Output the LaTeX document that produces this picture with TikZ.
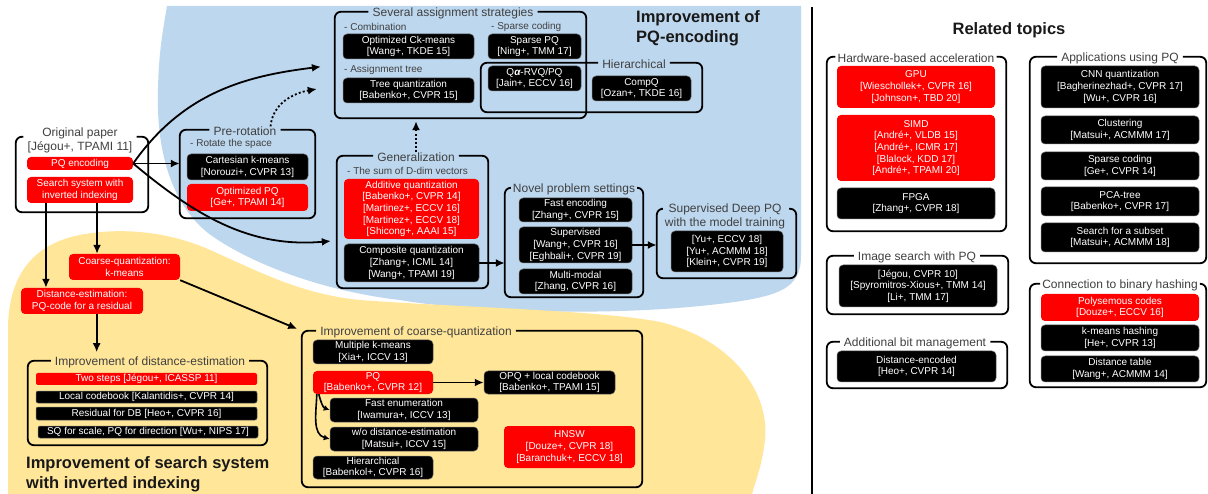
\documentclass[tikz,border=0pt]{standalone}
\usepackage{fontspec}
\setmainfont{Liberation Sans}
\usetikzlibrary{arrows.meta,fit,calc}
\definecolor{pqblue}{HTML}{BDD7EE}
\definecolor{pqyellow}{HTML}{FFE699}
\definecolor{pqred}{HTML}{FF0000}
\definecolor{ttlgray}{HTML}{404040}

\tikzset{
  box/.style={rounded corners=4pt, inner sep=0pt, text=white, align=center,
    font=\fontsize{10}{11.6}\selectfont},
  blk/.style={box, fill=black, draw=black!60, line width=0.5pt},
  rdb/.style={box, fill=pqred},
  thin/.style={rounded corners=2pt},
  grp/.style={inner sep=0pt, draw=none},
  frm/.style={draw=black, line width=1.8pt, rounded corners=6pt},
  ttl/.style={text=ttlgray, inner sep=0pt, inner xsep=4pt, align=center,
    font=\fontsize{12}{14}\selectfont},
  sub/.style={text=ttlgray, anchor=west, inner sep=0pt,
    font=\fontsize{10}{12}\selectfont},
  head/.style={text=black!90, inner sep=0pt, align=left,
    font=\bfseries\fontsize{16.5}{19.5}\selectfont},
  arr/.style={line width=1.8pt, -{Latex[length=9pt,width=8pt]}},
  smallarr/.style={line width=1.6pt, -{Latex[length=6pt,width=6pt]}},
  dotarr/.style={arr, dash pattern=on 2pt off 2.2pt},
}
% border of a group, broken where its title sits on the top edge
\newcommand\pqframe[2]{\draw[frm] (#2.east |- #1.north) -| (#1.south east) -| (#1.north west) -- (#2.west |- #1.north);}
% a text box given by style, name and its corners x1,y1,x2,y2
\newcommand\pqbox[6]{\node[#1, minimum width={(#5-#3)*1pt}, minimum height={(#6-#4)*1pt}] (#2) at ({(#3+#5)/2},{(#4+#6)/2})}

\begin{document}
\begin{tikzpicture}[x=1pt,y=-1pt]
\useasboundingbox (0,0) rectangle (1208,494);
\fill[white] (0,0) rectangle (1208,494);

% coloured areas
\fill[pqblue] (167,6) -- (801,6) -- (801,255)
  .. controls (801,290) and (780,298) .. (700,306)
  .. controls (600,316) and (470,312) .. (400,300)
  .. controls (330,292) and (260,268) .. (215,238)
  .. controls (180,215) and (160,170) .. (158,110)
  .. controls (157,60) and (163,30) .. (167,6) -- cycle;
\fill[pqyellow] (8,494) -- (8,330)
  .. controls (8,285) and (25,248) .. (75,236)
  .. controls (120,226) and (170,232) .. (210,250)
  .. controls (260,272) and (300,294) .. (360,300)
  .. controls (450,307) and (600,310) .. (660,322)
  .. controls (735,340) and (770,395) .. (765,440)
  .. controls (762,465) and (756,480) .. (752,494) -- cycle;

% separator
\coordinate (sepT) at (812,7);
\coordinate (sepB) at (812,494);
\draw[line width=1.8pt] (sepT) -- (sepB);

% headings
\node[head, anchor=west] (hPQ) at (636,28.5) {Improvement of\\PQ-encoding};
\node[head, anchor=west] (hIVF) at (26,474.5) {Improvement of search system\\with inverted indexing};
\node[head, anchor=base] (hRel) at (1009,35) {Related topics};

% ---- original paper
\node[grp, fit={(16,137)(148,212)}] (origF) {};
\node[ttl] (origT) at (80,140) {Original paper\\{}[Jégou+, TPAMI 11]};
\pqframe{origF}{origT}
\pqbox{rdb}{pqe}{27}{157}{133}{170} {PQ encoding};
\pqbox{rdb}{srch}{27}{177}{133}{203} {Search system with\\inverted indexing};

% ---- pre-rotation
\node[grp, fit={(180,130)(315,218)}] (prF) {};
\node[ttl] (prT) at (245,131) {Pre-rotation};
\pqframe{prF}{prT}
\node[sub] (sRot) at (190,144) {- Rotate the space};
\pqbox{blk}{cart}{187}{154}{308}{180} {Cartesian k-means\\{}[Norouzi+, CVPR 13]};
\pqbox{rdb}{opq}{187}{184}{308}{211} {Optimized PQ\\{}[Ge+, TPAMI 14]};

% ---- several assignment strategies
\node[grp, fit={(335,12)(586,118)}] (sasF) {};
\node[ttl] (sasT) at (453,13) {Several assignment strategies};
\pqframe{sasF}{sasT}
\node[sub] (sComb) at (344,27) {- Combination};
\node[sub] (sSpar) at (491,27) {- Sparse coding};
\node[sub] (sTree) at (344,70) {- Assignment tree};
\pqbox{blk}{ock}{343}{34}{474}{59} {Optimized Ck-means\\{}[Wang+, TKDE 15]};
\pqbox{blk}{spq}{488}{34}{581}{59} {Sparse PQ\\{}[Ning+, TMM 17]};
\pqbox{blk}{tq}{343}{78}{474}{103} {Tree quantization\\{}[Babenko+, CVPR 15]};
\node[grp, fit={(481,63)(702,112)}] (hierF) {};
\node[ttl] (hierT) at (634,64) {Hierarchical};
\pqframe{hierF}{hierT}
\pqbox{blk}{qa}{488}{66}{581}{91} {Q{\bfseries\itshape α}-RVQ/PQ\\{}[Jain+, ECCV 16]};
\pqbox{blk}{cmpq}{592}{76}{691}{101} {CompQ\\{}[Ozan+, TKDE 16]};

% ---- generalization
\node[grp, fit={(337,156)(488,288)}] (genF) {};
\node[ttl] (genT) at (416,157) {Generalization};
\pqframe{genF}{genT}
\node[sub] (sSum) at (347,171) {- The sum of D-dim vectors};
\pqbox{rdb}{aq}{344}{179}{479}{239} {Additive quantization\\{}[Babenko+, CVPR 14]\\{}[Martinez+, ECCV 16]\\{}[Martinez+, ECCV 18]\\{}[Shicong+, AAAI 15]};
\pqbox{blk}{cq}{344}{244}{479}{282} {Composite quantization\\{}[Zhang+, ICML 14]\\{}[Wang+, TPAMI 19]};

% ---- novel problem settings
\node[grp, fit={(505,188)(643,297)}] (novF) {};
\node[ttl, inner xsep=2pt] (novT) at (574,189) {Novel problem settings};
\pqframe{novF}{novT}
\pqbox{blk}{fenc}{519}{198}{632}{222} {Fast encoding\\{}[Zhang+, CVPR 15]};
\pqbox{blk}{sup}{519}{227}{632}{263} {Supervised\\{}[Wang+, CVPR 16]\\{}[Eghbali+, CVPR 19]};
\pqbox{blk}{mm}{519}{269}{632}{294} {Multi-modal\\{}[Zhang, CVPR 16]};

% ---- supervised deep PQ
\node[grp, fit={(657,209)(796,278)}] (sdF) {};
\node[ttl] (sdT) at (725,216) {Supervised Deep PQ\\with the model training};
\pqframe{sdF}{sdT}
\pqbox{blk}{yu}{671}{231}{783}{272} {[Yu+, ECCV 18]\\{}[Yu+, ACMMM 18]\\{}[Klein+, CVPR 19]};

% ---- search system side
\pqbox{rdb}{crs}{69}{254}{180}{280} {Coarse-quantization:\\k-means};
\pqbox{rdb}{dst}{21}{288}{143}{314} {Distance-estimation:\\PQ-code for a residual};

\node[grp, fit={(28,361)(267,445)}] (deF) {};
\node[ttl] (deT) at (150,362) {Improvement of distance-estimation};
\pqframe{deF}{deT}
\pqbox{rdb,thin}{two}{36}{373}{257}{385} {Two steps [Jégou+, ICASSP 11]};
\pqbox{blk,thin}{lcb}{36}{391}{257}{403} {Local codebook [Kalantidis+, CVPR 14]};
\pqbox{blk,thin}{rdbx}{36}{407}{257}{420} {Residual for DB [Heo+, CVPR 16]};
\pqbox{blk,thin}{sqs}{38}{426}{258}{438} {SQ for scale, PQ for direction [Wu+, NIPS 17]};

\node[grp, fit={(302,331)(642,487)}] (cqF) {};
\node[ttl] (cqT) at (416,332) {Improvement of coarse-quantization};
\pqframe{cqF}{cqT}
\pqbox{blk}{mkm}{313}{340}{433}{364} {Multiple k-means\\{}[Xia+, ICCV 13]};
\pqbox{rdb}{pqb}{313}{371}{433}{394} {PQ\\{}[Babenko+, CVPR 12]};
\pqbox{blk}{opql}{484}{371}{615}{394} {OPQ + local codebook\\{}[Babenko+, TPAMI 15]};
\pqbox{blk}{fen}{330}{398}{478}{422} {Fast enumeration\\{}[Iwamura+, ICCV 13]};
\pqbox{blk}{wod}{330}{427}{478}{451} {w/o distance-estimation\\{}[Matsui+, ICCV 15]};
\pqbox{blk}{hie}{313}{456}{433}{479} {Hierarchical\\{}[Babenkol+, CVPR 16]};
\pqbox{rdb}{hnsw}{504}{426}{635}{468} {HNSW\\{}[Douze+, CVPR 18]\\{}[Baranchuk+, ECCV 18]};

% ---- related topics
\node[grp, fit={(827,57)(1006,231)}] (hwF) {};
\node[ttl, inner xsep=2pt] (hwT) at (916,58) {Hardware-based acceleration};
\pqframe{hwF}{hwT}
\pqbox{rdb}{gpu}{837}{66}{995}{108} {GPU\\{}[Wieschollek+, CVPR 16]\\{}[Johnson+, TBD 20]};
\pqbox{rdb}{simd}{837}{115}{995}{181} {SIMD\\{}[André+, VLDB 15]\\{}[André+, ICMR 17]\\{}[Blalock, KDD 17]\\{}[André+, TPAMI 20]};
\pqbox{blk}{fpga}{837}{188}{995}{219} {FPGA\\{}[Zhang+, CVPR 18]};

\node[grp, fit={(1030,57)(1206,263)}] (apF) {};
\node[ttl] (apT) at (1120,58) {Applications using PQ};
\pqframe{apF}{apT}
\pqbox{blk}{cnn}{1041}{66}{1199}{108} {CNN quantization\\{}[Bagherinezhad+, CVPR 17]\\{}[Wu+, CVPR 16]};
\pqbox{blk}{clu}{1041}{116}{1199}{144} {Clustering\\{}[Matsui+, ACMMM 17]};
\pqbox{blk}{spc}{1041}{152}{1199}{180} {Sparse coding\\{}[Ge+, CVPR 14]};
\pqbox{blk}{pca}{1041}{187}{1199}{216} {PCA-tree\\{}[Babenko+, CVPR 17]};
\pqbox{blk}{sfs}{1041}{223}{1199}{252} {Search for a subset\\{}[Matsui+, ACMMM 18]};

\node[grp, fit={(827,256)(1008,314)}] (isF) {};
\node[ttl] (isT) at (917,257) {Image search with PQ};
\pqframe{isF}{isT}
\pqbox{blk}{isq}{839}{265}{997}{307} {[Jégou, CVPR 10]\\{}[Spyromitros-Xious+, TMM 14]\\{}[Li+, TMM 17]};

\node[grp, fit={(827,342)(1007,388)}] (abF) {};
\node[ttl] (abT) at (915,343) {Additional bit management};
\pqframe{abF}{abT}
\pqbox{blk}{dse}{837}{351}{996}{382} {Distance-encoded\\{}[Heo+, CVPR 14]};

\node[grp, fit={(1030,284)(1206,387)}] (cbF) {};
\node[ttl, inner xsep=2pt] (cbT) at (1120,285) {Connection to binary hashing};
\pqframe{cbF}{cbT}
\pqbox{rdb}{poly}{1041}{294}{1199}{321} {Polysemous codes\\{}[Douze+, ECCV 16]};
\pqbox{blk}{kmh}{1041}{325}{1199}{351} {k-means hashing\\{}[He+, CVPR 13]};
\pqbox{blk}{dtab}{1041}{356}{1199}{382} {Distance table\\{}[Wang+, ACMMM 14]};

% ---- connectors
\draw[arr] (pqe.east) -- (pqe.east -| prF.west);
\draw[arr, shorten >=14pt] (pqe.east) to[out=55, in=187] (sasF.west);
\coordinate (genIn) at ($(genF.south west)!0.36!(genF.north west)$);
\draw[arr, shorten >=6pt] (pqe.east) to[out=-40, in=185] (genIn);
\coordinate (dotS) at ($(prT.north east)+(-10,0)$);
\coordinate (dotE) at ($(sasF.west)+(-18,24)$);
\draw[dotarr] (dotS) to[out=85, in=190] (dotE);
\draw[dotarr, shorten >=3pt] (genT.north) -- (genT.north |- sasF.south);
\draw[arr] (cq.east) -- (cq.east -| novF.west);
\draw[arr] (sup.east) -- (sup.east -| sdF.west);

\coordinate (s1) at ($(srch.south west)!0.18!(srch.south east)$);
\coordinate (s2) at ($(srch.south west)!0.66!(srch.south east)$);
\draw[arr] (s1) -- (s1 |- dst.north);
\draw[arr] (s2) -- (s2 |- crs.north);
\coordinate (d1) at ($(dst.south west)!0.62!(dst.south east)$);
\draw[arr, shorten >=4pt] (d1) -- (d1 |- deT.north);
\draw[arr, shorten >=5pt] (crs.south east) -- (cqF.north west);
\draw[arr] (pqb.east) -- (opql.west);
\draw[smallarr] ($(pqb.south west)+(6,0)$) to[out=-75, in=160] (fen.west);
\draw[smallarr] ($(pqb.south west)+(4,0)$) to[out=-92, in=165] (wod.west);
\end{tikzpicture}
\end{document}
